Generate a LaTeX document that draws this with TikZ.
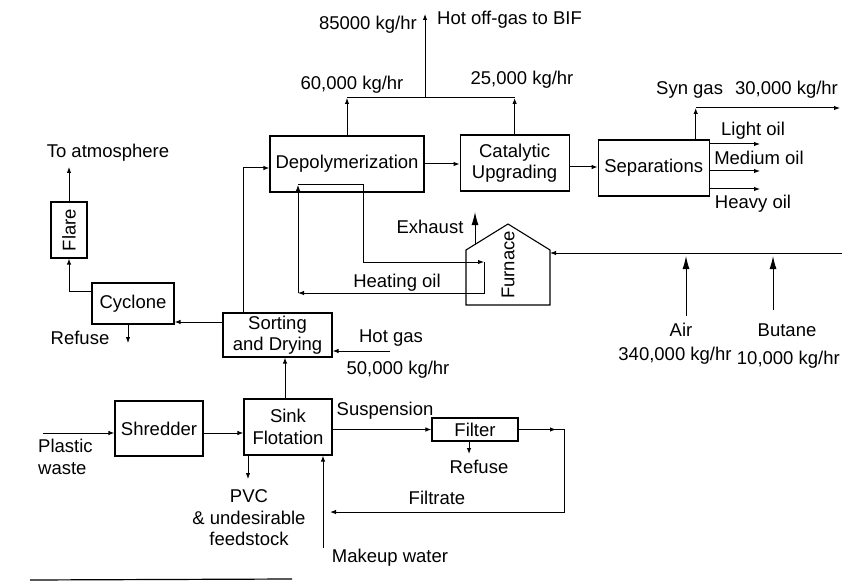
\documentclass[tikz,border=0pt]{standalone}
\usepackage{fontspec}
\setmainfont{Liberation Sans}
\usepackage{graphicx}
\usepackage{tikz}
\usetikzlibrary{arrows.meta,positioning}

\begin{document}
\begin{tikzpicture}[
    x=1pt, y=-1pt,
    font={\fontsize{18.5}{21.5}\selectfont},
    node distance=35pt and 28pt,
    block/.style={draw, line width=1.1pt, align=center, inner sep=2pt,
                  minimum width=88pt, minimum height=56pt},
    lbl/.style={align=center, inner sep=1pt},
    line/.style={-{Latex[length=6pt, width=4.5pt]}, line width=1pt},
    bigline/.style={-{Latex[length=13pt, width=7pt]}, line width=1pt},
    plain/.style={line width=1pt}
]
\useasboundingbox (0,0) rectangle (842,585);

% process units
\node[block, minimum width=154pt]                      (depol)  at (347,164)   {Depolymerization};
\node[block, minimum width=109pt, right=35pt of depol, yshift=1pt] (cat) {Catalytic\\Upgrading};
\node[block, minimum width=111pt, right=28pt of cat, yshift=-5pt]  (sep) {Separations};
\node[block, minimum width=109pt, minimum height=44pt] (sort)   at (277.5,335) {Sorting\\and Drying};
\node[block, minimum width=82pt, minimum height=41pt]  (cyc)    at (133,303.5) {Cyclone};
\node[block, minimum width=36pt, minimum height=56pt, inner sep=0pt] (flare) at (69,230) {\rotatebox{90}{Flare}};
\node[block, minimum height=55pt]                      (shred)  at (159,428.5) {Shredder};
\node[block]                                           (sink)   at (288,427)   {Sink\\Flotation};
\node[block, minimum width=86pt, minimum height=23pt, inner sep=0pt] (filter) at (475,429.5) {Filter};

% furnace
\node[rotate=90, inner sep=1pt] (furn) at (508,265) {Furnace};
\draw[line width=1.1pt] (466,305) -- (466,250) -- (508,224) -- (550,250) -- (550,305) -- cycle;
\coordinate (furnE) at (550,253);
\coordinate (roof)  at (475,244.5);

% free ends
\coordinate (join)    at (425,98);
\coordinate (bif)     at (425,14);
\coordinate (syn)     at (840,108);
\coordinate (light)   at (760,144);
\coordinate (medium)  at (760,171);
\coordinate (heavy)   at (760,189);
\coordinate (feed)    at (842,253);
\coordinate (air)     at (686,316);
\coordinate (butane)  at (773,310);
\coordinate (exh)     at (475,212);
\coordinate (hoA)     at (298,185);
\coordinate (hoB)     at (363,185);
\coordinate (hoC)     at (484,262);
\coordinate (hoD)     at (298,293);
\coordinate (atm)     at (69,167);
\coordinate (cycref)  at (128,343);
\coordinate (hotgas)  at (390,351);
\coordinate (plastic) at (43,433);
\coordinate (pvc)     at (248,479);
\coordinate (makeup)  at (323,548);
\coordinate (filref)  at (469,454);
\coordinate (filtcor) at (564,429.5);
\coordinate (filtret) at (330,512);

% off-gas
\draw[line] (depol.north) -- (depol.north |- join);
\draw[line] (cat.north) -- (cat.north |- join);
\draw[plain] (depol.north |- join) -- (cat.north |- join);
\draw[line] (join) -- (bif);
\node[lbl, anchor=east] at (418,25) {85000 kg/hr};
\node[lbl, anchor=west] at (436,20) {Hot off-gas to BIF};
\node[lbl] at (352,85) {60,000 kg/hr};
\node[lbl] at (522,80) {25,000 kg/hr};

% main line
\draw[line] (depol.east) -- (depol.east -| cat.west);
\draw[line] ([yshift=-4pt]cat.east) -- ([yshift=-4pt]cat.east -| sep.west);
\draw[line] ([xshift=42pt]sep.north) -- ([xshift=42pt]sep.north |- syn);
\draw[line] ([xshift=42pt]sep.north |- syn) -- (syn);
\node[lbl, anchor=west] at (655,90) {Syn gas\hspace{12pt}30,000 kg/hr};
\draw[line] (sep.east |- light) -- (light);
\draw[line] (sep.east |- medium) -- (medium);
\draw[line] (sep.east |- heavy) -- (heavy);
\node[lbl] at (753,131) {Light oil};
\node[lbl] at (759,158) {Medium oil};
\node[lbl] at (753,204) {Heavy oil};

% furnace feeds
\draw[line] (feed) -- (furnE);
\draw[bigline, shorten >=3pt] (air) -- (air |- feed);
\draw[bigline, shorten >=3pt] (butane) -- (butane |- feed);
\node[lbl] at (681,330) {Air};
\node[lbl] at (675,356) {340,000 kg/hr};
\node[lbl] at (787,330) {Butane};
\node[lbl, anchor=east] at (841,360) {10,000 kg/hr};
\draw[bigline] (roof) -- (exh);
\node[lbl] at (430,227) {Exhaust};

% heating oil loop
\draw[line] (hoA) -- (hoB) |- (hoC);
\draw[line] (hoC) |- (hoD);
\draw[line] (hoD) -- (hoA);
\node[lbl] at (397,283) {Heating oil};

% sorting, cyclone, flare
\draw[line] ([xshift=-34.5pt]sort.north) |- ([yshift=-4pt]depol.west);
\draw[line] (sort.west |- 0,322) -- (cyc.east |- 0,322);
\draw[line] (cyc.west |- 0,291) -| (flare.south);
\draw[line] (flare.north) -- (atm);
\node[lbl] at (108,153) {To atmosphere};
\draw[line] (cyc.south -| cycref) -- (cycref);
\node[lbl] at (80,338) {Refuse};
\draw[line] (hotgas) -- (hotgas -| sort.east);
\node[lbl] at (391,338) {Hot gas};
\node[lbl] at (398,370) {50,000 kg/hr};

% feed preparation
\draw[line] (plastic) -- (plastic -| shred.west);
\node[lbl, align=left, anchor=west] at (37,457) {Plastic\\waste};
\draw[line] (shred.east |- plastic) -- (sink.west |- plastic);
\draw[line] ([xshift=-3pt]sink.north) -- ([xshift=-3pt]sink.north |- sort.south);
\draw[line] (sink.south -| pvc) -- (pvc);
\node[lbl] at (249,518) {PVC\\\& undesirable\\feedstock};
\draw[line] (makeup) -- (makeup |- sink.south);
\node[lbl] at (390,558) {Makeup water};

% filter loop
\draw[line] (sink.east |- filter.west) -- (filter.west);
\node[lbl] at (385,411) {Suspension};
\draw[line] (filter.south -| filref) -- (filref);
\node[lbl] at (479,467) {Refuse};
\draw[line] (filter.east) -- ([xshift=-8pt]filtcor);
\draw[line] (filter.east) -- (filtcor) |- (filtret);
\node[lbl] at (437,498) {Filtrate};

\draw[line width=1.2pt] (30,580) -- (292,579);
\end{tikzpicture}
\end{document}
